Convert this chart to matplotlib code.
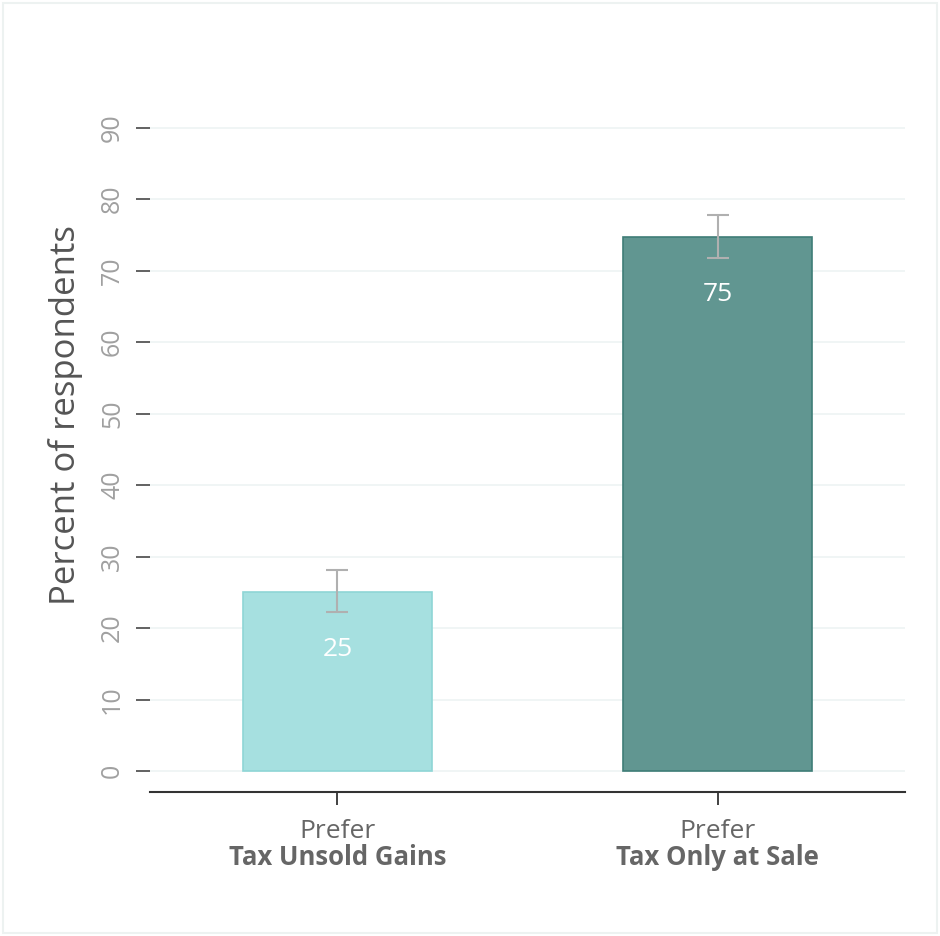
import matplotlib
matplotlib.use("Agg")
import matplotlib.pyplot as plt
from matplotlib.patches import Rectangle

plt.rcParams['font.family'] = ['Open Sans', 'DejaVu Sans']

# data
categories = ["Tax Unsold Gains", "Tax Only at Sale"]
values = [25.05, 74.75]
err_low = [22.2, 71.8]
err_high = [28.1, 77.8]
yticks = [0, 10, 20, 30, 40, 50, 60, 70, 80, 90]

fill_colors = ["#a6e0e0", "#619691"]
edge_colors = ["#8fd6d6", "#3f7d77"]

fig = plt.figure(figsize=(9.4, 9.36), dpi=100)
ax = fig.add_axes([0.1596, 0.1538, 0.8032, 0.7479])

# faint border round the figure
fig.patches.append(Rectangle((0.003, 0.003), 0.994, 0.994, transform=fig.transFigure,
                             fill=False, edgecolor="#edf2f1", linewidth=1.5))

x = list(range(len(categories)))
ax.bar(x, values, width=0.497, color=fill_colors, edgecolor=edge_colors, linewidth=1.2, zorder=2)

yerr = [[v - lo for v, lo in zip(values, err_low)], [hi - v for v, hi in zip(values, err_high)]]
ax.errorbar(x, values, yerr=yerr, fmt="none", ecolor="#b0b0b0", elinewidth=1.5,
            capsize=8, capthick=1.5, zorder=3)

for xi, v in zip(x, values):
    ax.text(xi, v - 8.1, str(round(v)), ha="center", va="center", color="white", fontsize=19, zorder=4)

ax.set_xlim(-0.493, 1.493)
ax.set_ylim(-2.94, 95)
ax.set_yticks(yticks)
ax.set_yticklabels([str(t) for t in yticks], rotation=90, va="center", color="#a0a0a0", fontsize=18)
ax.tick_params(axis="y", length=10, width=1.3, color="#555555", pad=8)
ax.grid(axis="y", color="#eef3f3", linewidth=1.2, zorder=0)
ax.set_axisbelow(True)

for s in ["left", "right", "top"]:
    ax.spines[s].set_visible(False)
ax.spines["bottom"].set_color("#333333")
ax.spines["bottom"].set_linewidth(1.5)

ax.set_xticks(x)
ax.set_xticklabels([])
ax.tick_params(axis="x", length=9, width=1.3, color="#333333")
for xi, name in zip(x, categories):
    ax.text(xi, -8.4, "Prefer", ha="center", va="center", color="#666666", fontsize=19)
    ax.text(xi, -12.1, name, ha="center", va="center", color="#666666", fontsize=18.5,
            fontweight="bold")

ax.set_ylabel("Percent of respondents", fontsize=25, color="#555555")
ax.yaxis.set_label_coords(-0.089, 0.539)

fig.savefig("out.png", dpi=100)
